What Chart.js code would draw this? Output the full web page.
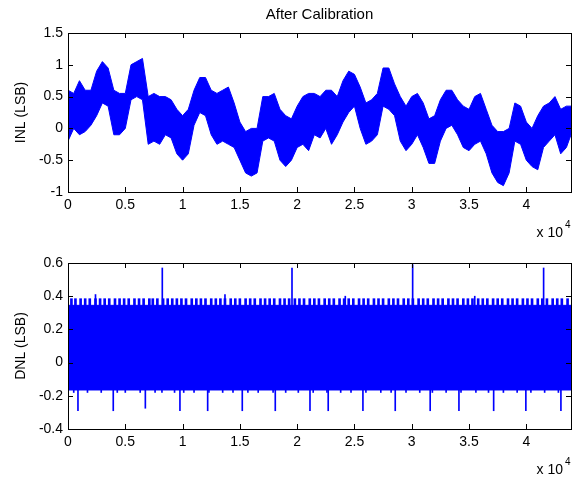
<!DOCTYPE html>
<html>
<head>
<meta charset="utf-8">
<script src="https://cdn.jsdelivr.net/npm/chart.js@4"></script>
<style>
  html, body { margin: 0; padding: 0; background: #fff; }
  #wrap { position: relative; width: 579px; height: 477px; }
  canvas { position: absolute; left: 0; }
  #inl { top: 0; }
  #dnl { top: 240px; }
</style>
</head>
<body>
<div id="wrap">
  <canvas id="inl" width="579" height="240"></canvas>
  <canvas id="dnl" width="579" height="237"></canvas>
</div>
<script>
// ---------- data ----------
const CODE_MAX = 43900;
const xTickValues = [0, 5000, 10000, 15000, 20000, 25000, 30000, 35000, 40000];
const xTickLabels = ['0', '0.5', '1', '1.5', '2', '2.5', '3', '3.5', '4'];
const inlTickLabels = ['-1', '-0.5', '0', '0.5', '1', '1.5'];
const dnlTickLabels = ['-0.4', '-0.2', '0', '0.2', '0.4', '0.6'];

// INL envelope, every 500 codes
const inlCodes = [
  0, 500, 1000, 1500, 2000, 2500, 3000, 3500, 4000, 4500,
  5000, 5500, 6000, 6500, 7000, 7500, 8000, 8500, 9000, 9500,
  10000, 10500, 11000, 11500, 12000, 12500, 13000, 13500, 14000, 14500,
  15000, 15500, 16000, 16500, 17000, 17500, 18000, 18500, 19000, 19500,
  20000, 20500, 21000, 21500, 22000, 22500, 23000, 23500, 24000, 24500,
  25000, 25500, 26000, 26500, 27000, 27500, 28000, 28500, 29000, 29500,
  30000, 30500, 31000, 31500, 32000, 32500, 33000, 33500, 34000, 34500,
  35000, 35500, 36000, 36500, 37000, 37500, 38000, 38500, 39000, 39500,
  40000, 40500, 41000, 41500, 42000, 42500, 43000, 43500, 43900
];
const inlUpper = [
  0.6, 0.55, 0.75, 0.6, 0.6, 0.9, 1.05, 0.95, 0.6, 0.55,
  0.55, 1.0, 1.05, 1.1, 0.5, 0.55, 0.5, 0.5, 0.45, 0.3,
  0.2, 0.3, 0.6, 0.8, 0.8, 0.6, 0.55, 0.6, 0.65, 0.4,
  0.1, -0.05, 0.0, 0.0, 0.5, 0.5, 0.55, 0.3, 0.2, 0.15,
  0.35, 0.5, 0.55, 0.55, 0.5, 0.6, 0.6, 0.5, 0.75, 0.9,
  0.85, 0.65, 0.4, 0.45, 0.55, 0.95, 0.95, 0.7, 0.5, 0.35,
  0.5, 0.55, 0.4, 0.15, 0.2, 0.45, 0.6, 0.6, 0.45, 0.35,
  0.3, 0.5, 0.55, 0.3, 0.05, -0.05, -0.05, 0.0, 0.4, 0.35,
  0.1, 0.0, 0.2, 0.35, 0.4, 0.5, 0.3, 0.35, 0.35
];
const inlLower = [
  -0.2, 0.0, -0.1, -0.05, 0.05, 0.2, 0.4, 0.35, -0.1, -0.1,
  0.0, 0.45, 0.5, 0.45, -0.25, -0.2, -0.25, -0.1, -0.15, -0.4,
  -0.5, -0.4, 0.05, 0.25, 0.2, -0.1, -0.25, -0.2, -0.25, -0.3,
  -0.5, -0.7, -0.75, -0.7, -0.2, -0.15, -0.2, -0.5, -0.6, -0.5,
  -0.3, -0.25, -0.35, -0.1, -0.15, 0.0, -0.25, -0.1, 0.1, 0.25,
  0.35, 0.0, -0.25, -0.2, -0.1, 0.35, 0.3, 0.2, -0.2, -0.35,
  -0.25, -0.1, -0.3, -0.55, -0.55, -0.2, 0.0, 0.05, -0.1, -0.3,
  -0.35, -0.25, -0.2, -0.4, -0.7, -0.85, -0.9, -0.7, -0.2, -0.25,
  -0.5, -0.6, -0.65, -0.3, -0.2, -0.1, -0.4, -0.3, -0.1
];

// DNL: solid band, small fringe marks and isolated spikes
const dnlBandCodes = [0, CODE_MAX];
const dnlBandHigh = [0.345, 0.345];
const dnlBandLow = [-0.165, -0.165];

const dnlFringeCodes = [
  300, 650, 1100, 1500, 1900, 2400, 2800, 3200, 3600, 4100, 4500, 4900,
  5300, 5800, 6200, 6600, 7100, 7400, 7800, 8300, 8700, 9100, 9500, 9900,
  10300, 10800, 11200, 11600, 12000, 12500, 12900, 13300, 13700, 14200, 14600, 15000,
  15500, 15900, 16300, 16800, 17200, 17600, 18000, 18500, 18900, 19300, 19800, 20200,
  20600, 21100, 21500, 21900, 22400, 22800, 23200, 23700, 24100, 24500, 24900, 25400,
  25800, 26200, 26700, 27100, 27500, 28000, 28400, 28800, 29300, 29700, 30100, 30600,
  31000, 31400, 31900, 32300, 32700, 33200, 33600, 34000, 34500, 34900, 35300, 35800,
  36200, 36600, 37100, 37500, 37900, 38400, 38800, 39200, 39700, 40100, 40500, 41000,
  41400, 41800, 42300, 42700, 43100, 43600
];
const DNL_FRINGE_TOP = 0.385;
const dnlTallCodes = [2400, 13700, 24200, 35500];
const dnlTallTop = [0.41, 0.41, 0.40, 0.40];
const dnlLowFringeCodes = [
  500, 1700, 2900, 4300, 5000, 6300, 7600, 8200, 9300, 10100, 11000, 12300,
  13500, 14400, 15700, 16600, 17900, 19000, 20100, 21400, 22600, 23800, 24700,
  26000, 27300, 28200, 29500, 30700, 31800, 33000, 34300, 35600, 36700, 38000,
  39200, 40400, 41600, 42800
];
const DNL_LOW_FRINGE = -0.18;

const dnlUpSpikeCodes = [8230, 19550, 30080, 41510];
const dnlUpSpikeTop = [0.57, 0.57, 0.59, 0.57];
const dnlDownSpikeCodes = [
  870, 3950, 6750, 9770, 12190, 15210, 18090, 21120, 22710, 25740,
  28560, 31610, 34120, 37150, 39960, 43020
];
const dnlDownSpikeBottom = [
  -0.29, -0.29, -0.275, -0.29, -0.29, -0.29, -0.29, -0.29, -0.29, -0.29,
  -0.29, -0.29, -0.29, -0.29, -0.29, -0.29
];

// ---------- helpers ----------
const FONT = "'Liberation Sans', Arial, sans-serif";
const BLUE = '#0000ff';

function pts(xs, ys) {
  return xs.map((x, i) => ({ x, y: ys[i] }));
}
function bars(xs, lo, hi) {
  return xs.map((x, i) => ({
    x,
    y: [Array.isArray(lo) ? lo[i] : lo, Array.isArray(hi) ? hi[i] : hi]
  }));
}

// matlab style frame: box, inner ticks, title, exponent label
const matlabFrame = {
  id: 'matlabFrame',
  afterDraw(chart, args, opts) {
    const ctx = chart.ctx;
    const a = chart.chartArea;
    const xs = chart.scales.x;
    const ys = chart.scales.y;
    const len = 5;
    ctx.save();
    ctx.strokeStyle = '#000';
    ctx.lineWidth = 1;
    ctx.beginPath();
    xs.ticks.forEach(t => {
      const px = Math.round(xs.getPixelForValue(t.value)) + 0.5;
      ctx.moveTo(px, a.bottom); ctx.lineTo(px, a.bottom - len);
      ctx.moveTo(px, a.top); ctx.lineTo(px, a.top + len);
    });
    ys.ticks.forEach(t => {
      const py = Math.round(ys.getPixelForValue(t.value)) + 0.5;
      ctx.moveTo(a.left, py); ctx.lineTo(a.left + len, py);
      ctx.moveTo(a.right, py); ctx.lineTo(a.right - len, py);
    });
    ctx.stroke();
    ctx.strokeRect(Math.round(a.left) + 0.5, Math.round(a.top) + 0.5,
      Math.round(a.right - a.left), Math.round(a.bottom - a.top));

    ctx.fillStyle = '#000';
    if (opts.title) {
      ctx.font = '15px ' + FONT;
      ctx.textAlign = 'center';
      ctx.textBaseline = 'middle';
      ctx.fillText(opts.title, (a.left + a.right) / 2, 15);
    }
    // x 10^4
    ctx.textAlign = 'right';
    ctx.textBaseline = 'middle';
    ctx.font = '14px ' + FONT;
    ctx.fillText('x 10', a.right - 8, a.bottom + 41);
    ctx.textAlign = 'left';
    ctx.font = '10px ' + FONT;
    ctx.fillText('4', a.right - 6, a.bottom + 33);
    ctx.restore();
  }
};

function baseOptions(yMin, yMax, yStep, yLabels, yTitle, padTop, title) {
  return {
    responsive: false,
    animation: false,
    events: [],
    layout: { padding: { top: padTop, right: 8, left: 0, bottom: 0 } },
    plugins: {
      legend: { display: false },
      tooltip: { enabled: false },
      matlabFrame: { title }
    },
    scales: {
      x: {
        type: 'linear',
        min: 0,
        max: CODE_MAX,
        bounds: 'data',
        offset: false,
        grid: { display: false, drawTicks: false },
        border: { display: false },
        afterBuildTicks: s => { s.ticks = xTickValues.map(v => ({ value: v })); },
        ticks: {
          padding: 5,
          color: '#000',
          font: { family: FONT, size: 14 },
          maxRotation: 0,
          autoSkip: false,
          callback: (v, i) => xTickLabels[i]
        },
        afterFit: s => { s.height = 48; }
      },
      y: {
        min: yMin,
        max: yMax,
        grid: { display: false, drawTicks: false },
        border: { display: false },
        ticks: {
          stepSize: yStep,
          padding: 5,
          color: '#000',
          font: { family: FONT, size: 14 },
          callback: (v, i) => yLabels[i]
        },
        title: {
          display: true,
          text: yTitle,
          color: '#000',
          font: { family: FONT, size: 14 },
          padding: { top: 13, bottom: 0 }
        },
        afterFit: s => { s.width = 68; }
      }
    }
  };
}

// ---------- INL ----------
new Chart(document.getElementById('inl'), {
  type: 'line',
  data: {
    datasets: [
      {
        data: pts(inlCodes, inlUpper),
        borderColor: BLUE, backgroundColor: BLUE,
        borderWidth: 1, pointRadius: 0, tension: 0, fill: '+1'
      },
      {
        data: pts(inlCodes, inlLower),
        borderColor: BLUE, backgroundColor: BLUE,
        borderWidth: 1, pointRadius: 0, tension: 0, fill: false
      }
    ]
  },
  options: baseOptions(-1, 1.5, 0.5, inlTickLabels, 'INL (LSB)', 33, 'After Calibration'),
  plugins: [matlabFrame]
});

// ---------- DNL ----------
const barStyle = { type: 'bar', backgroundColor: BLUE, borderWidth: 0, grouped: false };
new Chart(document.getElementById('dnl'), {
  type: 'line',
  data: {
    datasets: [
      {
        data: pts(dnlBandCodes, dnlBandHigh),
        borderColor: BLUE, backgroundColor: BLUE,
        borderWidth: 1, pointRadius: 0, fill: '+1'
      },
      {
        data: pts(dnlBandCodes, dnlBandLow),
        borderColor: BLUE, backgroundColor: BLUE,
        borderWidth: 1, pointRadius: 0, fill: false
      },
      Object.assign({ data: bars(dnlFringeCodes, 0.34, DNL_FRINGE_TOP), barThickness: 2 }, barStyle),
      Object.assign({ data: bars(dnlTallCodes, 0.34, dnlTallTop), barThickness: 1 }, barStyle),
      Object.assign({ data: bars(dnlLowFringeCodes, DNL_LOW_FRINGE, -0.16), barThickness: 1 }, barStyle),
      Object.assign({ data: bars(dnlUpSpikeCodes, 0.34, dnlUpSpikeTop), barThickness: 1 }, barStyle),
      Object.assign({ data: bars(dnlDownSpikeCodes, dnlDownSpikeBottom, -0.16), barThickness: 1 }, barStyle)
    ]
  },
  options: baseOptions(-0.4, 0.6, 0.2, dnlTickLabels, 'DNL (LSB)', 23, null),
  plugins: [matlabFrame]
});
</script>
</body>
</html>
